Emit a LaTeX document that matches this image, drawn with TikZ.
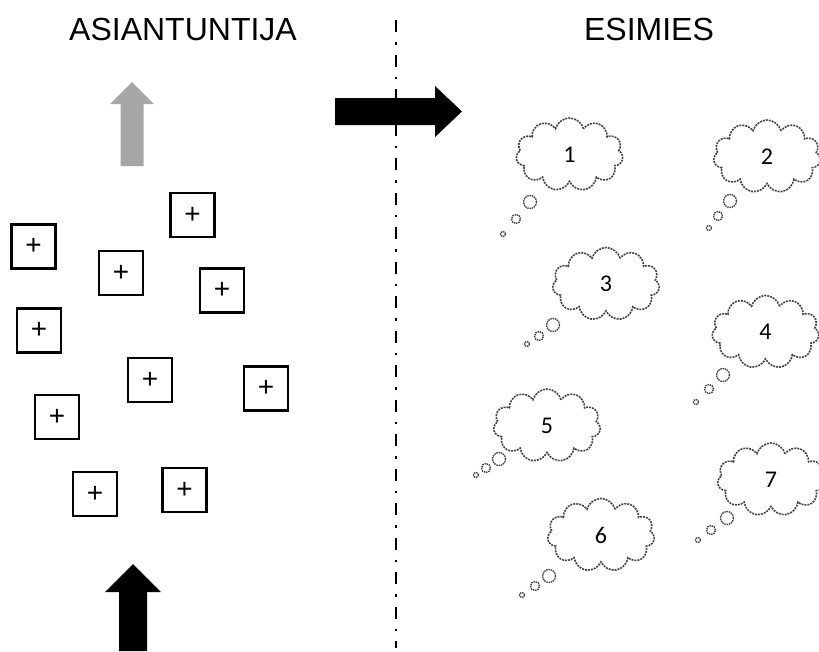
\documentclass[tikz,border=0pt]{standalone}
\usepackage{fontspec}
\setmainfont{Liberation Sans}
\newfontfamily\numfont{Carlito}
\usepackage{tikz}
\usetikzlibrary{shapes.symbols}
\definecolor{inkgrey}{RGB}{70,70,70}
\definecolor{arrowgrey}{RGB}{166,166,166}

\begin{document}
\begin{tikzpicture}[
  x=1pt,y=-1pt,
  title/.style={font=\fontsize{32}{38}\selectfont,inner sep=0pt},
  plusbox/.style={draw,line width=2.6pt,minimum size=44pt,inner sep=0pt,
                  font=\fontsize{28}{28}\selectfont},
  thought/.style={cloud,cloud puffs=11,cloud ignores aspect,
                  minimum width=107pt,minimum height=73pt,inner sep=0pt,
                  draw=inkgrey,line width=1.6pt,dash pattern=on 2pt off 1pt,
                  font=\numfont\fontsize{24}{24}\selectfont},
  bubble/.style={circle,draw=inkgrey,line width=1.4pt,
                 dash pattern=on 1.5pt off 0.8pt,inner sep=0pt},
  bigb/.style={bubble,minimum size=13pt},
  midb/.style={bubble,minimum size=9pt},
  smallb/.style={bubble,minimum size=5pt},
  divider/.style={line width=2.5pt,dash pattern=on 12pt off 10pt on 2.5pt off 10pt},
  ]

  \useasboundingbox (0,0) rectangle (819,651);

  %─── Titles ────────────────────────────────────────────────────────────────
  \node[title] (expert) at (183,29) {ASIANTUNTIJA};
  \node[title] (boss)   at (649,29) {ESIMIES};

  %─── Divider ───────────────────────────────────────────────────────────────
  \coordinate (divtop) at (396,20);
  \coordinate (divbot) at (396,648);
  \draw[divider] (divtop) -- (divbot);

  %─── Block arrows ──────────────────────────────────────────────────────────
  % right arrow across the divider
  \fill[black]
    (335,98) -- (435,98) -- (435,86) -- (462,111.5) -- (435,137)
    -- (435,125) -- (335,125) -- cycle;
  % grey arrow above the boxes
  \fill[arrowgrey]
    (120.5,166) -- (120.5,104) -- (110,104) -- (132,82) -- (154,104)
    -- (143.5,104) -- (143.5,166) -- cycle;
  % black arrow from below
  \fill[black]
    (119,651) -- (119,592) -- (105,592) -- (133,564) -- (161,592)
    -- (147,592) -- (147,651) -- cycle;

  %─── Boxes ─────────────────────────────────────────────────────────────────
  \node[plusbox] (box1)  at (33.5,246.5) {+};
  \node[plusbox] (box2)  at (192.5,215)  {+};
  \node[plusbox] (box3)  at (121,273)    {+};
  \node[plusbox] (box4)  at (222,290.5)  {+};
  \node[plusbox] (box5)  at (39,330.5)   {+};
  \node[plusbox] (box6)  at (150,380)    {+};
  \node[plusbox] (box7)  at (266,388.5)  {+};
  \node[plusbox] (box8)  at (57,417)     {+};
  \node[plusbox] (box9)  at (95,494)     {+};
  \node[plusbox] (box10) at (184.5,490)  {+};

  %─── Clouds ────────────────────────────────────────────────────────────────
  \node[thought] (cloud1) at (569.5,154.5) {1};
  \node[bigb]   (cloud1a) at (530,202) {};
  \node[midb]   (cloud1b) at (516,219) {};
  \node[smallb] (cloud1c) at (503,234) {};

  \node[thought] (cloud2) at (767,156.5) {2};
  \node[bigb]   (cloud2a) at (730,201) {};
  \node[midb]   (cloud2b) at (718,216) {};
  \node[smallb] (cloud2c) at (709,228) {};

  \node[thought] (cloud3) at (606,284) {3};
  \node[bigb]   (cloud3a) at (553,325) {};
  \node[midb]   (cloud3b) at (539,336) {};
  \node[smallb] (cloud3c) at (527,344) {};

  \node[thought] (cloud4) at (765.5,332) {4};
  \node[bigb]   (cloud4a) at (723,375) {};
  \node[midb]   (cloud4b) at (709,389) {};
  \node[smallb] (cloud4c) at (696,402) {};

  \node[thought] (cloud5) at (547,425.5) {5};
  \node[bigb]   (cloud5a) at (499,459) {};
  \node[midb]   (cloud5b) at (486,468) {};
  \node[smallb] (cloud5c) at (476,475) {};

  \node[thought] (cloud6) at (601,535) {6};
  \node[bigb]   (cloud6a) at (549,576) {};
  \node[midb]   (cloud6b) at (535,586) {};
  \node[smallb] (cloud6c) at (522,595) {};

  \node[thought] (cloud7) at (771,479.5) {7};
  \node[bigb]   (cloud7a) at (727,518) {};
  \node[midb]   (cloud7b) at (711,530) {};
  \node[smallb] (cloud7c) at (698,540) {};

\end{tikzpicture}
\end{document}
